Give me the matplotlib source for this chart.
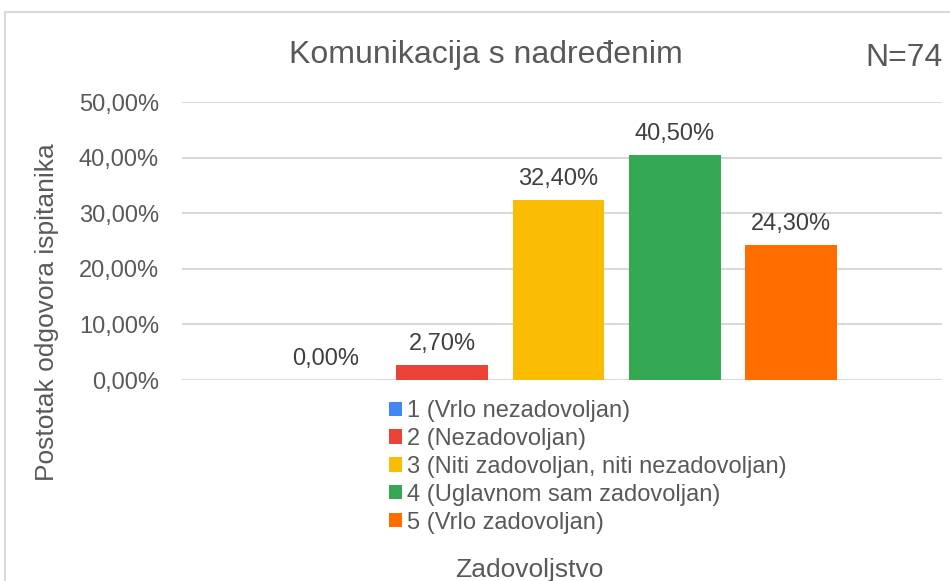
import matplotlib
matplotlib.use("Agg")
import matplotlib.pyplot as plt
from matplotlib.patches import Rectangle

plt.rcParams['font.family'] = ['Liberation Sans', 'DejaVu Sans']

title = "Komunikacija s nadređenim"
n_text = "N=74"
x_label = "Zadovoljstvo"
y_label = "Postotak odgovora ispitanika"
categories = ["1 (Vrlo nezadovoljan)", "2 (Nezadovoljan)",
              "3 (Niti zadovoljan, niti nezadovoljan)",
              "4 (Uglavnom sam zadovoljan)", "5 (Vrlo zadovoljan)"]
values = [0.0, 2.7, 32.4, 40.5, 24.3]
colors = ["#4285F4", "#EA4335", "#FBBC04", "#34A853", "#FF6D01"]
y_ticks = [0, 10, 20, 30, 40, 50]

W, H = 950, 581
fig = plt.figure(figsize=(9.5, 5.81), dpi=100)
fig.patch.set_facecolor("white")

# outer chart border (right/bottom edges cut off)
fig.patches.append(Rectangle((5 / W, -0.1), 1.2, 1 - 12 / H + 0.1,
                             transform=fig.transFigure, fill=False,
                             edgecolor="#d9d9d9", lw=1.5, zorder=0))

ax = fig.add_axes([182 / W, 1 - 380 / H, (942 - 182) / W, (380 - 102) / H])
grid_c = "#d9d9d9"
lab_c = "#595959"

for i, (cat, v, c) in enumerate(zip(categories, values, colors)):
    ax.bar(i, v, width=0.79, color=c, label=cat, zorder=3)
    ax.annotate(f"{v:.2f}%".replace('.', ','), (i, v), xytext=(0, 10.8),
                textcoords="offset points", ha="center", va="baseline",
                fontsize=17, color="#404040")

ax.set_xlim(-1.24, 5.30)
ax.set_ylim(0, 50)
ax.set_yticks(y_ticks)
ax.set_yticklabels([f"{t:.2f}%".replace('.', ',') for t in y_ticks],
                   fontsize=17, color=lab_c)
ax.set_xticks([])
ax.tick_params(axis="y", length=0, pad=16.5)
ax.grid(axis="y", color=grid_c, lw=1.5, zorder=0)
for s in ax.spines.values():
    s.set_visible(False)

leg = ax.legend(loc="upper left", bbox_to_anchor=(389 / W, 1 - 400 / H),
                bbox_transform=fig.transFigure, frameon=False, fontsize=17,
                handlelength=0.55, handleheight=0.55, handletextpad=0.2,
                labelspacing=0.25, borderpad=0, borderaxespad=0)
for t in leg.get_texts():
    t.set_color(lab_c)

fig.text(486 / W, 1 - 63 / H, title, ha="center", va="baseline",
         fontsize=23, color=lab_c)
fig.text(865 / W, 1 - 66 / H, n_text, ha="left", va="baseline",
         fontsize=23, color=lab_c)
fig.text(529 / W, 1 - 577 / H, x_label, ha="center", va="baseline",
         fontsize=19, color=lab_c)
fig.text(47 / W, 1 - 312 / H, y_label, ha="center", va="center",
         rotation=90, fontsize=19, color=lab_c)

fig.savefig("out.png", dpi=100)
